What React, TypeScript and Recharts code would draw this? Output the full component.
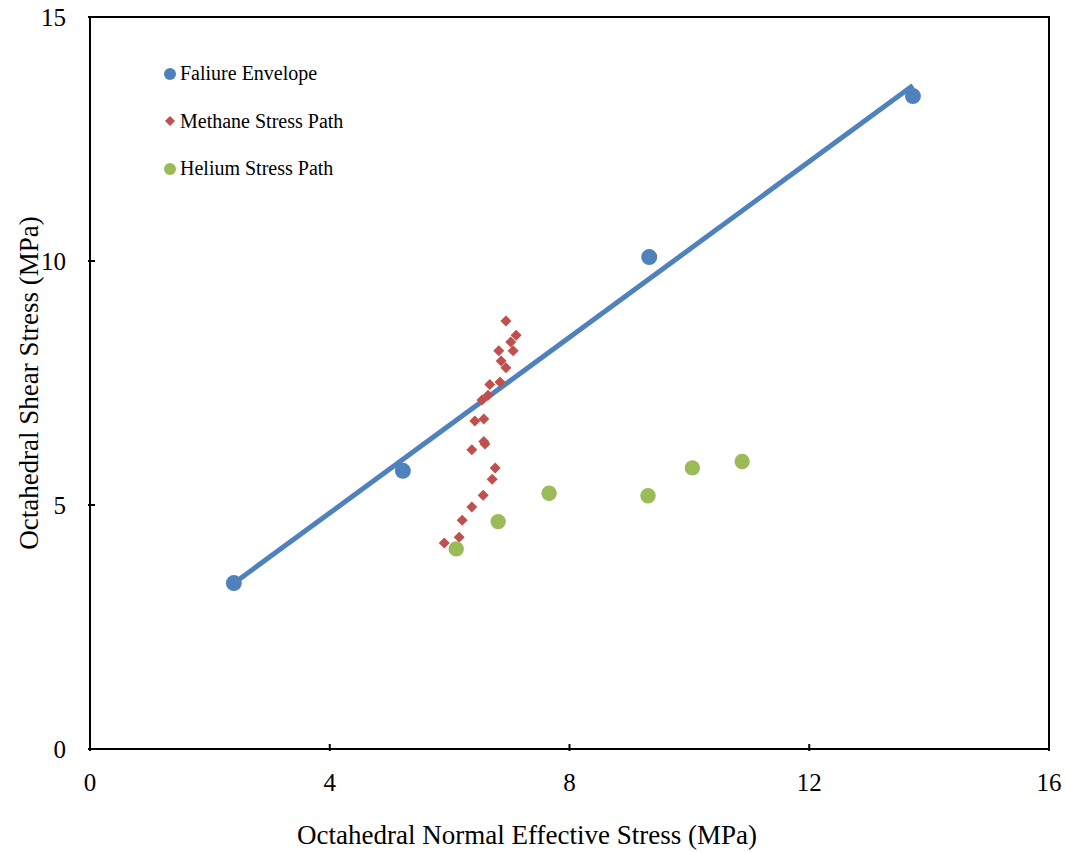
import React from "react";
import {
  ScatterChart,
  Scatter,
  XAxis,
  YAxis,
  ReferenceArea,
  Legend,
} from "recharts";

// octahedral normal effective stress (x) vs octahedral shear stress (y), MPa
const failureEnvelope = [
  { x: 2.4, y: 3.4 },
  { x: 5.22, y: 5.7 },
  { x: 9.33, y: 10.08 },
  { x: 13.73, y: 13.38 },
];

const methanePath = [
  { x: 5.91, y: 4.22 },
  { x: 6.16, y: 4.34 },
  { x: 6.21, y: 4.69 },
  { x: 6.37, y: 4.96 },
  { x: 6.56, y: 5.2 },
  { x: 6.71, y: 5.53 },
  { x: 6.76, y: 5.76 },
  { x: 6.37, y: 6.13 },
  { x: 6.59, y: 6.25 },
  { x: 6.57, y: 6.3 },
  { x: 6.42, y: 6.72 },
  { x: 6.57, y: 6.76 },
  { x: 6.54, y: 7.15 },
  { x: 6.64, y: 7.25 },
  { x: 6.67, y: 7.47 },
  { x: 6.84, y: 7.52 },
  { x: 6.94, y: 7.81 },
  { x: 6.86, y: 7.95 },
  { x: 6.82, y: 8.16 },
  { x: 7.06, y: 8.16 },
  { x: 7.02, y: 8.34 },
  { x: 7.11, y: 8.48 },
  { x: 6.94, y: 8.77 },
];

const heliumPath = [
  { x: 6.11, y: 4.1 },
  { x: 6.81, y: 4.66 },
  { x: 7.66, y: 5.24 },
  { x: 9.31, y: 5.19 },
  { x: 10.05, y: 5.76 },
  { x: 10.88, y: 5.89 },
];

const xTicks = [0, 4, 8, 12, 16];
const yTicks = [0, 5, 10, 15];

const BLUE = "#4F81BD";
const RED = "#C0504D";
const GREEN = "#9BBB59";
const FONT = "'Liberation Serif', 'Times New Roman', serif";
const serif = { fontFamily: FONT };

// linear trendline through the failure envelope points
function fitLine(pts: { x: number; y: number }[]) {
  const n = pts.length;
  const mx = pts.reduce((s, p) => s + p.x, 0) / n;
  const my = pts.reduce((s, p) => s + p.y, 0) / n;
  let sxy = 0;
  let sxx = 0;
  pts.forEach((p) => {
    sxy += (p.x - mx) * (p.y - my);
    sxx += (p.x - mx) * (p.x - mx);
  });
  const k = sxy / sxx;
  const b = my - k * mx;
  const xs = pts.map((p) => p.x);
  const x0 = Math.min(...xs);
  const x1 = Math.max(...xs);
  return [
    { x: x0, y: k * x0 + b },
    { x: x1, y: k * x1 + b },
  ];
}

const trend = fitLine(failureEnvelope);

const Dot = (color: string, r: number) => (props: any) => {
  const { cx, cy } = props;
  if (cx == null || cy == null) return <g />;
  return <circle cx={cx} cy={cy} r={r} fill={color} />;
};

const Diamond = (props: any) => {
  const { cx, cy } = props;
  if (cx == null || cy == null) return <g />;
  const h = 5.5;
  return (
    <path
      d={`M${cx},${cy - h}L${cx + h},${cy}L${cx},${cy + h}L${cx - h},${cy}Z`}
      fill={RED}
    />
  );
};

// inward tick marks, labels outside the frame
const XTick = (props: any) => {
  const { x, y, payload } = props;
  return (
    <g>
      <line x1={x} x2={x} y1={y} y2={y - 7} stroke="#000" strokeWidth={2} />
      <text
        x={x}
        y={y + 31}
        textAnchor="middle"
        dominantBaseline="central"
        style={serif}
        fontSize={25}
        fill="#000"
      >
        {payload.value}
      </text>
    </g>
  );
};

const YTick = (props: any) => {
  const { x, y, payload } = props;
  return (
    <g>
      <line x1={x} x2={x + 7} y1={y} y2={y} stroke="#000" strokeWidth={2} />
      <text
        x={x - 22}
        y={y}
        textAnchor="end"
        dominantBaseline="central"
        style={serif}
        fontSize={25}
        fill="#000"
      >
        {payload.value}
      </text>
    </g>
  );
};

const legendItems = [
  { name: "Faliure Envelope", color: BLUE, kind: "circle" },
  { name: "Methane Stress Path", color: RED, kind: "diamond" },
  { name: "Helium Stress Path", color: GREEN, kind: "circle" },
];

const renderLegend = () => (
  <div style={{ fontFamily: FONT, fontSize: 20, color: "#000" }}>
    {legendItems.map((it) => (
      <div
        key={it.name}
        style={{ display: "flex", alignItems: "center", height: 47.5 }}
      >
        <svg width={20} height={16}>
          {it.kind === "circle" ? (
            <circle cx={10} cy={8} r={6} fill={it.color} />
          ) : (
            <path d="M10,3L15,8L10,13L5,8Z" fill={it.color} />
          )}
        </svg>
        <span>{it.name}</span>
      </div>
    ))}
  </div>
);

export default function App() {
  return (
    <div
      style={{
        position: "fixed",
        left: 0,
        top: 0,
        background: "#fff",
        fontFamily: FONT,
      }}
    >
      <ScatterChart
        width={1065}
        height={852}
        margin={{ top: 17, right: 16, left: 0, bottom: 0 }}
        style={serif}
      >
        <XAxis
          type="number"
          dataKey="x"
          domain={[0, 16]}
          ticks={xTicks}
          allowDataOverflow
          height={103}
          tickSize={0}
          tickLine={false}
          axisLine={{ stroke: "#000", strokeWidth: 2 }}
          tick={<XTick />}
          label={{
            content: () => (
              <text
                x={527}
                y={835}
                textAnchor="middle"
                dominantBaseline="central"
                style={serif}
                fontSize={27}
                fill="#000"
              >
                Octahedral Normal Effective Stress (MPa)
              </text>
            ),
          }}
        />
        <YAxis
          type="number"
          dataKey="y"
          domain={[0, 15]}
          ticks={yTicks}
          allowDataOverflow
          width={90}
          tickSize={0}
          tickLine={false}
          axisLine={{ stroke: "#000", strokeWidth: 2 }}
          tick={<YTick />}
          label={{
            content: () => (
              <text
                x={29}
                y={383}
                transform="rotate(-90 29 383)"
                textAnchor="middle"
                dominantBaseline="central"
                style={serif}
                fontSize={27}
                fill="#000"
              >
                Octahedral Shear Stress (MPa)
              </text>
            ),
          }}
        />
        <ReferenceArea
          x1={0}
          x2={16}
          y1={0}
          y2={15}
          fill="none"
          stroke="#000"
          strokeWidth={2}
        />
        <Legend
          layout="vertical"
          align="center"
          verticalAlign="middle"
          content={renderLegend}
          wrapperStyle={{ left: 160, top: 50, width: "auto" }}
        />
        <Scatter
          name="trend"
          data={trend}
          line={{ stroke: BLUE, strokeWidth: 5 }}
          shape={() => <g />}
          legendType="none"
          isAnimationActive={false}
        />
        <Scatter
          name="Faliure Envelope"
          data={failureEnvelope}
          shape={Dot(BLUE, 8)}
          isAnimationActive={false}
        />
        <Scatter
          name="Methane Stress Path"
          data={methanePath}
          shape={Diamond}
          isAnimationActive={false}
        />
        <Scatter
          name="Helium Stress Path"
          data={heliumPath}
          shape={Dot(GREEN, 7.7)}
          isAnimationActive={false}
        />
      </ScatterChart>
    </div>
  );
}
